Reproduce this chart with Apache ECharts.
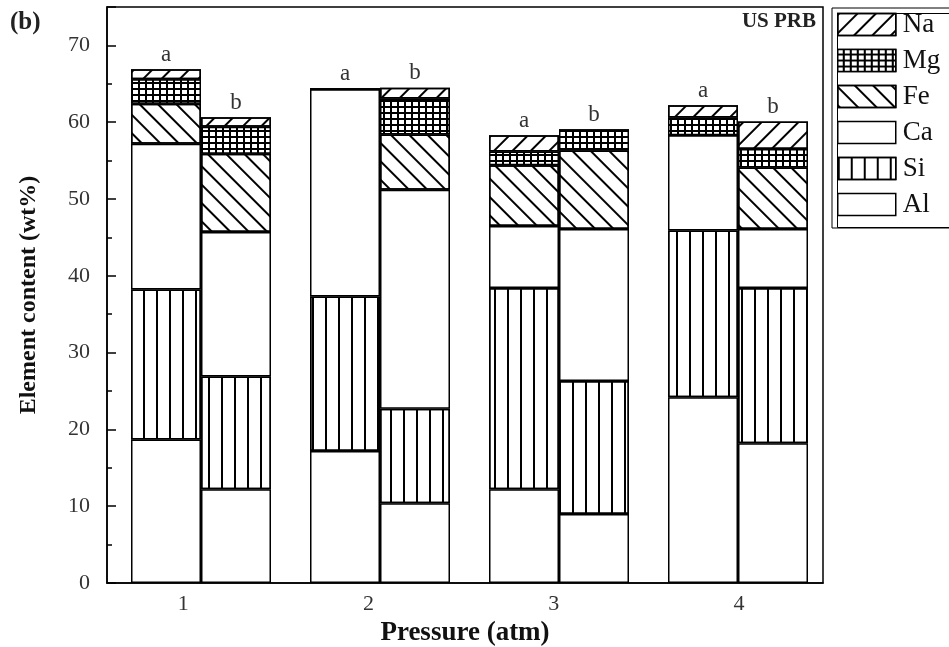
<!DOCTYPE html>
<html>
<head>
<meta charset="utf-8">
<script src="https://cdn.jsdelivr.net/npm/echarts@6/dist/echarts.min.js"></script>
<style>html,body{margin:0;padding:0;background:#fff;}#chart{width:949px;height:647px;}</style>
</head>
<body>
<div id="chart"></div>
<script>
// ---- data ----
const categories = [1, 2, 3, 4];
const groupLabels = ['a', 'b'];
const elements = ['Al', 'Si', 'Ca', 'Fe', 'Mg', 'Na'];
// group a (left bar of each pair)
const Al_a = [18.7, 17.2, 12.2, 24.2];
const Si_a = [19.5, 20.1, 26.2, 21.7];
const Ca_a = [19.0, 27.0, 8.1, 12.4];
const Fe_a = [5.2, 0, 7.9, 0];
const Mg_a = [3.2, 0, 1.8, 2.3];
const Na_a = [1.3, 0, 2.1, 1.6];
// group b (right bar of each pair)
const Al_b = [12.2, 10.4, 9.0, 18.2];
const Si_b = [14.7, 12.3, 17.3, 20.2];
const Ca_b = [18.8, 28.5, 19.8, 7.7];
const Fe_b = [10.2, 7.2, 10.2, 8.0];
const Mg_b = [3.5, 4.7, 2.7, 2.4];
const Na_b = [1.25, 1.4, 0, 3.6];

const groups = {
  a: { Al: Al_a, Si: Si_a, Ca: Ca_a, Fe: Fe_a, Mg: Mg_a, Na: Na_a },
  b: { Al: Al_b, Si: Si_b, Ca: Ca_b, Fe: Fe_b, Mg: Mg_b, Na: Na_b }
};

// ---- styles ----
const FONT = '"Liberation Serif", "Times New Roman", serif';
const decals = {
  Al: null,
  Si: { symbol: 'rect', symbolSize: 1, color: '#000', dashArrayX: [1.3, 10.3], dashArrayY: [1, 0] },
  Ca: null,
  Fe: { symbol: 'rect', symbolSize: 1, color: '#000', dashArrayX: [1, 0], dashArrayY: [1.3, 11], rotation: Math.PI / 4 },
  Mg: { symbol: 'rect', symbolSize: 1, color: '#fff', backgroundColor: '#000', dashArrayX: [4.3, 2], dashArrayY: [3.4, 1.8] },
  Na: { symbol: 'rect', symbolSize: 1, color: '#000', dashArrayX: [1, 0], dashArrayY: [1.3, 10.5], rotation: -Math.PI / 4 }
};

const series = [];
// narrow empty spacer stack: nudges each a/b pair slightly right of the category centre
series.push({
  name: 'spacer', type: 'bar', stack: 'spacer', barWidth: 9, barGap: '0%',
  data: [], silent: true, itemStyle: { color: 'transparent' }
});
groupLabels.forEach(function (g) {
  elements.forEach(function (el) {
    const s = {
      name: el,
      type: 'bar',
      stack: g,
      xAxisIndex: 0,
      yAxisIndex: 0,
      barWidth: 70,
      barGap: '0%',
      data: groups[g][el],
      itemStyle: { color: '#fff', borderColor: '#000', borderWidth: 1.5 },
      emphasis: { disabled: true }
    };
    if (decals[el]) s.itemStyle.decal = decals[el];
    if (el === 'Na') {
      s.label = {
        show: true, position: 'top', distance: 3,
        formatter: function () { return g; },
        fontFamily: FONT, fontSize: 23, color: '#333'
      };
    }
    series.push(s);
  });
});

const chart = echarts.init(document.getElementById('chart'), null, { renderer: 'canvas' });
chart.setOption({
  animation: false,
  backgroundColor: '#fff',
  grid: { left: 107, right: 126, top: 7, bottom: 64, show: true, borderColor: '#000', borderWidth: 1.5, containLabel: false, outerBoundsMode: 'none' },
  legend: {
    orient: 'vertical', left: 832, top: 8,
    data: elements.slice().reverse(),
    icon: 'rect',
    itemWidth: 58, itemHeight: 22, itemGap: 9,
    padding: [3, 40, 10, 5],
    borderColor: '#000', borderWidth: 1,
    selectedMode: false,
    textStyle: { fontFamily: FONT, fontSize: 27, lineHeight: 22, color: '#111', padding: [0, 0, 0, 2] },
    itemStyle: { borderColor: '#000', borderWidth: 1.5 }
  },
  xAxis: [
    {
      type: 'category', data: categories, position: 'bottom',
      axisLine: { show: true, lineStyle: { color: '#000', width: 1.5 } },
      axisTick: { show: false }, axisLabel: { show: false }, splitLine: { show: false }
    },
    {
      type: 'value', min: 0.589, max: 4.454, position: 'bottom', offset: 0,
      axisLine: { show: false }, axisTick: { show: false }, splitLine: { show: false },
      axisLabel: { customValues: categories, fontFamily: FONT, fontSize: 22, color: '#333', margin: 10 },
      name: 'Pressure (atm)', nameLocation: 'middle', nameGap: 37,
      nameTextStyle: { fontFamily: FONT, fontSize: 27, fontWeight: 'bold', color: '#111' }
    }
  ],
  yAxis: {
    type: 'value', min: 0, max: 75, interval: 10,
    axisLine: { show: true, lineStyle: { color: '#000', width: 1.5 } },
    axisTick: { show: true, inside: true, length: 9, lineStyle: { color: '#000', width: 1.5 } },
    minorTick: { show: true, splitNumber: 2, length: 5, lineStyle: { color: '#000', width: 1.5 } },
    splitLine: { show: false },
    axisLabel: { fontFamily: FONT, fontSize: 22, color: '#333', margin: 17, showMaxLabel: false },
    name: 'Element content (wt%)', nameLocation: 'middle', nameGap: 66,
    nameTextStyle: { fontFamily: FONT, fontSize: 24, fontWeight: 'bold', color: '#111' }
  },
  graphic: [
    { type: 'text', left: 10, top: 10, style: { text: '(b)', font: 'bold 25px ' + FONT, fill: '#222' } },
    { type: 'text', right: 133, top: 11, style: { text: 'US PRB', font: 'bold 21px ' + FONT, fill: '#222' } },
    { type: 'rect', left: 835, top: 11, shape: { width: 200, height: 214 }, style: { fill: 'none', stroke: '#000', lineWidth: 1 } }
  ],
  series: series
});
</script>
</body>
</html>
